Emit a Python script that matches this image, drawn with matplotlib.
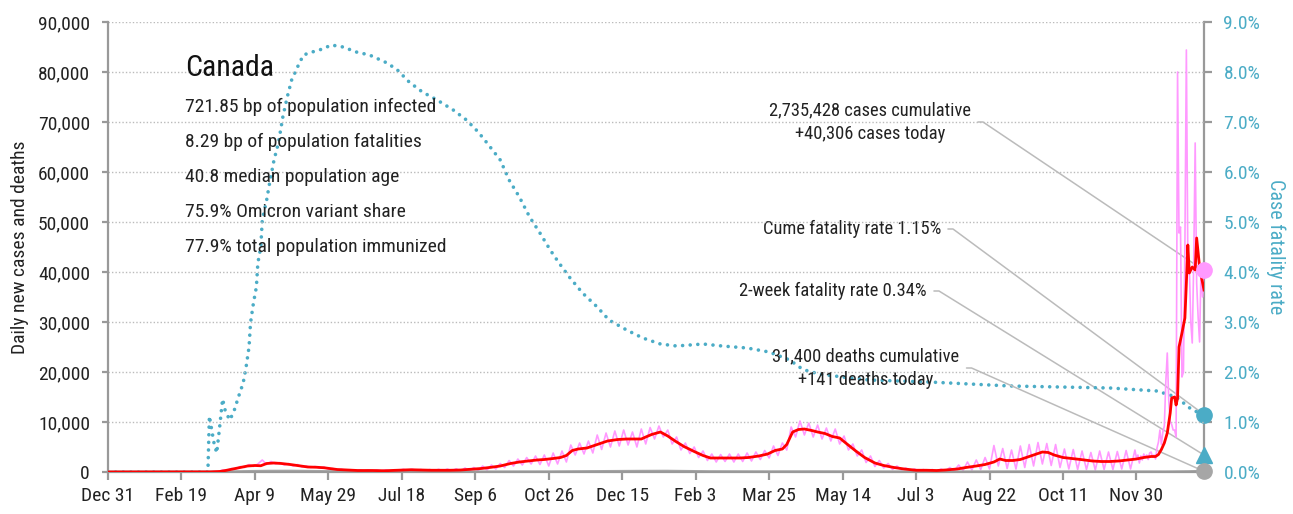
import numpy as np
import matplotlib
matplotlib.use("Agg")
import matplotlib.pyplot as plt
import matplotlib.ticker as mticker

plt.rcParams['font.family'] = ['Roboto Condensed', 'Archivo Narrow', 'DejaVu Sans']

# ---------------- data ----------------
start = np.datetime64('2019-12-31')
last_day = 746

# 7-day average of daily new cases (thousands), day offsets from Dec 31 2019
avg_days = [0, 60, 70, 76, 80, 85, 90, 95, 100, 104, 108, 113, 118, 124, 130, 136, 142,
            147, 156, 163, 170, 180, 188, 197, 206, 212, 220, 233, 240, 247, 254, 261,
            267, 274, 280, 286, 292, 297, 303, 308, 312, 316, 320, 326, 333, 340, 347,
            353, 358, 363, 366, 370, 376, 381, 386, 392, 399, 405, 410, 416, 423, 430,
            436, 443, 449, 454, 459, 462, 466, 470, 474, 479, 483, 488, 493, 498, 503,
            509, 515, 522, 528, 535, 542, 550, 557, 564, 570, 578, 584, 591, 597, 603,
            607, 611, 616, 621, 627, 632, 636, 640, 644, 650, 656, 662, 670, 676, 682,
            688, 694, 700, 705, 710, 713, 715, 717, 719, 721, 723, 724, 726, 727, 728,
            729, 731, 733, 734, 735, 736, 738, 740, 741, 743, 744, 746]
avg_k = [0, 0, 0.02, 0.1, 0.3, 0.6, 0.9, 1.2, 1.3, 1.25, 1.7, 1.8, 1.7, 1.5, 1.25, 1.0, 0.95,
         0.85, 0.5, 0.4, 0.3, 0.3, 0.25, 0.35, 0.45, 0.4, 0.35, 0.35, 0.4, 0.55, 0.7, 0.95,
         1.2, 1.7, 2.0, 2.2, 2.4, 2.5, 2.7, 2.9, 3.3, 4.3, 4.6, 4.8, 5.5, 6.2, 6.5,
         6.6, 6.6, 6.6, 7.0, 7.5, 8.0, 7.2, 6.2, 5.1, 4.1, 3.3, 2.8, 2.8, 2.8, 2.8,
         2.9, 3.2, 3.6, 4.3, 4.6, 5.5, 8.0, 8.5, 8.6, 8.3, 8.0, 7.7, 7.1, 6.8, 5.6,
         4.2, 2.9, 1.8, 1.3, 0.9, 0.6, 0.35, 0.35, 0.3, 0.4, 0.6, 0.9, 1.2, 1.5, 2.0,
         2.6, 2.3, 2.3, 2.5, 3.1, 3.6, 4.0, 3.9, 3.4, 2.9, 2.7, 2.5, 2.2, 2.1, 2.1,
         2.2, 2.4, 2.6, 2.9, 3.1, 3.1, 3.5, 4.5, 5.8, 7.8, 11.8, 14.8, 15.0, 13.4, 14.8,
         25.0, 27.8, 30.8, 37.8, 45.4, 39.8, 41.0, 40.4, 46.8, 41.0, 39.4, 36.4]

# daily new cases (thousands): every third day up to day 699, then daily
daily_k_early = [0.0, 0.0, 0.0, 0.0, 0.0, 0.1, 0.05, 0.4, 0.3, 0.7,
                 0.6, 1.1, 0.9, 1.5, 1.1, 1.6, 2.4, 1.5, 2.1, 1.6,
                 1.9, 1.4, 1.7, 1.2, 1.5, 1.0, 1.2, 0.9, 1.1, 0.75,
                 1.0, 0.55, 0.7, 0.4, 0.55, 0.3, 0.45, 0.2, 0.4, 0.2,
                 0.4, 0.2, 0.4, 0.2, 0.4, 0.2, 0.45, 0.3, 0.55, 0.3,
                 0.55, 0.3, 0.5, 0.25, 0.5, 0.2, 0.55, 0.2, 0.6, 0.2,
                 0.65, 0.15, 0.8, 0.25, 0.9, 0.3, 1.2, 0.4, 1.4, 0.6,
                 1.7, 0.9, 2.3, 1.2, 2.6, 1.4, 2.9, 1.6, 3.2, 1.5,
                 3.4, 1.2, 3.8, 1.6, 4.2, 2.0, 5.4, 3.4, 5.8, 3.6,
                 6.2, 3.8, 7.4, 4.5, 7.8, 5.0, 8.2, 5.2, 8.4, 5.4,
                 8.0, 5.0, 8.6, 5.6, 8.9, 6.6, 9.2, 7.0, 8.4, 5.6,
                 7.0, 4.4, 5.8, 3.7, 5.0, 2.9, 4.2, 2.3, 3.6, 2.0,
                 3.5, 2.1, 3.6, 2.0, 3.6, 2.1, 3.8, 2.2, 4.0, 2.5,
                 4.3, 2.8, 5.2, 3.3, 5.8, 4.4, 9.0, 7.0, 10.2, 7.4,
                 9.8, 7.0, 9.4, 6.6, 8.8, 6.2, 8.6, 5.6, 7.2, 4.4,
                 5.6, 3.2, 4.4, 1.9, 3.2, 1.1, 2.3, 0.8, 1.7, 0.5,
                 1.2, 0.4, 0.8, 0.3, 0.6, 0.2, 0.5, 0.15, 0.5, 0.15,
                 0.6, 0.2, 0.9, 0.25, 1.4, 0.3, 2.0, 0.4, 2.4, 0.5,
                 2.9, 0.6, 5.3, 1.2, 4.7, 0.7, 4.4, 0.6, 5.2, 0.9,
                 5.5, 1.2, 5.9, 1.6, 5.7, 1.3, 5.5, 0.9, 4.6, 0.6,
                 4.5, 0.5, 4.2, 0.5, 3.9, 0.4, 4.2, 0.5, 4.0, 0.5,
                 4.1, 0.6, 4.3, 0.6, 4.4]
daily_k_late = [2.8, 3.4, 1.8, 3.2, 2.4, 3.6, 2.9, 3.4, 2.5, 3.8,
                4.0, 3.0, 3.4, 2.6, 4.8, 6.0, 8.4, 5.5, 8.0, 9.2,
                18.0, 23.8, 14.4, 10.0, 9.5, 8.4, 8.4, 7.0, 80.0, 47.8,
                49.0, 19.0, 20.0, 45.0, 84.4, 42.4, 41.0, 30.0, 25.8, 42.0,
                65.8, 37.8, 31.0, 26.0, 41.0, 35.0, 40.306]

# daily deaths (count)
death_days = [0, 68, 80, 95, 110, 125, 140, 160, 190, 250, 300, 330, 360, 380, 410,
              450, 480, 520, 560, 620, 680, 720, 735, 746]
deaths = [0, 0, 15, 90, 150, 160, 110, 40, 8, 5, 25, 80, 130, 150, 60,
          35, 45, 25, 5, 30, 25, 15, 60, 141]

# case fatality rate (%)
cfr_days = [0, 68, 69, 72, 74, 76, 78, 80, 83, 86, 89, 92, 94, 96, 97, 99, 101, 102,
            104, 105, 108, 110, 113, 116, 119, 122, 125, 129, 133, 139, 146, 152, 160,
            169, 178, 190, 197, 205, 214, 224, 235, 244, 252, 258, 267, 273, 280, 287,
            294, 301, 307, 314, 323, 333, 341, 353, 364, 376, 387, 405, 418, 435, 450,
            464, 473, 484, 500, 518, 559, 614, 682, 714, 727, 738, 746]
cfr_pct = [0, 0, 1.12, 0.6, 0.38, 0.9, 1.46, 1.2, 1.04, 1.24, 1.52, 1.78, 2.1, 2.5,
           2.98, 3.38, 3.7, 4.18, 4.5, 5.04, 5.44, 5.78, 6.24, 6.58, 7.1, 7.5, 7.84,
           8.1, 8.34, 8.4, 8.46, 8.54, 8.5, 8.4, 8.34, 8.18, 8.04, 7.8, 7.6, 7.44, 7.24,
           7.04, 6.8, 6.58, 6.24, 5.84, 5.5, 5.1, 4.78, 4.44, 4.18, 3.9, 3.58, 3.3, 3.04,
           2.84, 2.68, 2.56, 2.52, 2.56, 2.52, 2.48, 2.4, 2.24, 2.05, 1.96, 1.9, 1.84,
           1.8, 1.72, 1.68, 1.62, 1.5, 1.24, 1.15]

two_week_cfr = 0.34
x_ticklabels = ["Dec 31", "Feb 19", "Apr 9", "May 29", "Jul 18", "Sep 6", "Oct 26",
                "Dec 15", "Feb 3", "Mar 25", "May 14", "Jul 3", "Aug 22", "Oct 11",
                "Nov 30"]
stats = ["721.85 bp of population infected", "8.29 bp of population fatalities",
         "40.8 median population age", "75.9% Omicron variant share",
         "77.9% total population immunized"]

# ---------------- helpers ----------------
def to_dates(days):
    return start + np.asarray(days).astype('timedelta64[D]')

daily_days = np.r_[np.arange(57, 700, 3), np.arange(700, last_day + 1)]
daily_vals = np.array(daily_k_early + daily_k_late) * 1000

# ---------------- figure ----------------
BLUE = '#4bacc6'
RED = '#ff0000'
PINK = '#ff99ff'
GRAY = '#a6a6a6'
SPINE = '#999999'
TXT = '#222222'

fig = plt.figure(figsize=(12.93, 5.14), dpi=100)
ax = fig.add_axes([108 / 1293, 42 / 514, 1096 / 1293, 450 / 514])
ax2 = ax.twinx()
ax.set_zorder(ax2.get_zorder() + 1)
ax.patch.set_visible(False)

ax.plot(to_dates(daily_days), daily_vals, color=PINK, lw=1.2, zorder=2)
ax.plot(to_dates(death_days), deaths, color=GRAY, lw=2.2, zorder=2)
ax.plot(to_dates(avg_days), np.array(avg_k) * 1000, color=RED, lw=2.0, zorder=3)
ax2.plot(to_dates(cfr_days), cfr_pct, color=BLUE, lw=2.6,
         linestyle=(0, (0.01, 2.1)), dash_capstyle='round', zorder=2)

# end markers
ax.plot(to_dates([last_day]), [daily_vals[-1]], 'o', color=PINK, ms=11, clip_on=False, zorder=6)
ax.plot(to_dates([last_day]), [deaths[-1]], 'o', color=GRAY, ms=11, clip_on=False, zorder=6)
ax2.plot(to_dates([last_day]), [cfr_pct[-1]], 'o', color=BLUE, ms=11, clip_on=False, zorder=6)
ax2.plot(to_dates([last_day]), [two_week_cfr], '^', color=BLUE, ms=11, clip_on=False, zorder=6)

# axes
ax.set_xlim(to_dates([0])[0], to_dates([last_day])[0])
ax.set_ylim(0, 90000)
ax2.set_ylim(0, 9)
ax.set_yticks(np.arange(0, 90001, 10000))
ax2.set_yticks(np.arange(0, 9.01, 1))
ax.yaxis.set_major_formatter(mticker.FuncFormatter(lambda v, p: f"{int(v):,}"))
ax2.yaxis.set_major_formatter(mticker.FuncFormatter(lambda v, p: f"{v:.1f}%"))
ax.set_xticks(to_dates(np.arange(0, 701, 50)))
ax.set_xticklabels(x_ticklabels)

for a in (ax, ax2):
    a.spines['top'].set_visible(False)
    for s in ('left', 'right', 'bottom'):
        a.spines[s].set_color(SPINE)
        a.spines[s].set_linewidth(1.6)
ax2.spines['left'].set_visible(False)
ax2.spines['bottom'].set_visible(False)
ax.spines['right'].set_visible(False)

ax.tick_params(axis='y', colors=SPINE, labelcolor=TXT, labelsize=14, length=4, width=1.6, pad=9)
ax.tick_params(axis='x', colors=SPINE, labelcolor=TXT, labelsize=14, length=6, width=1.6, pad=5)
ax2.tick_params(axis='y', colors=SPINE, labelcolor=BLUE, labelsize=14, length=6, width=1.6, pad=8)

ax.grid(axis='y', color='#bbbbbb', linestyle=(0, (1, 1.5)), lw=1.0)
ax.set_axisbelow(True)
ax.yaxis.get_gridlines()[0].set_visible(False)

ax.set_ylabel("Daily new cases and deaths", fontsize=14, color=TXT, labelpad=6)
ax2.set_ylabel("Case fatality rate", fontsize=14.5, color=BLUE, rotation=-90, labelpad=18)

# title block
tx = (185 - 108) / 1096
ax.text(tx, (472 - 68) / 450, "Canada", transform=ax.transAxes, fontsize=21.5,
        color='#111111', va='center', ha='left')
for i, s in enumerate(stats):
    ax.text(tx, (472 - (107 + 35 * i)) / 450, s, transform=ax.transAxes, fontsize=14,
            color=TXT, va='center', ha='left')

# annotations
def ann(text, xy_day, yval, axis, tx_px, ty_px, ha):
    axis.annotate(text, xy=(to_dates([xy_day])[0], yval),
                  xytext=((tx_px - 108) / 1096, (472 - ty_px) / 450),
                  textcoords='axes fraction', ha=ha, va='center', fontsize=13.3,
                  color=TXT, linespacing=1.4, zorder=1,
                  arrowprops=dict(arrowstyle='-', color='#bbbbbb', lw=1.1,
                                  shrinkA=3, shrinkB=0, relpos=(1, 0.5),
                                  connectionstyle='arc,angleA=0,armA=12,angleB=0,armB=0,rad=0'))

ann("2,735,428 cases cumulative\n+40,306 cases today", last_day, daily_vals[-1], ax, 870, 122, 'center')
ann("Cume fatality rate 1.15%", last_day, cfr_pct[-1], ax2, 941, 229, 'right')
ann("2-week fatality rate 0.34%", last_day, two_week_cfr, ax2, 927, 291, 'right')
ann("31,400 deaths cumulative\n+141 deaths today", last_day, deaths[-1], ax, 866, 368, 'center')

fig.savefig("out.png", dpi=100)
